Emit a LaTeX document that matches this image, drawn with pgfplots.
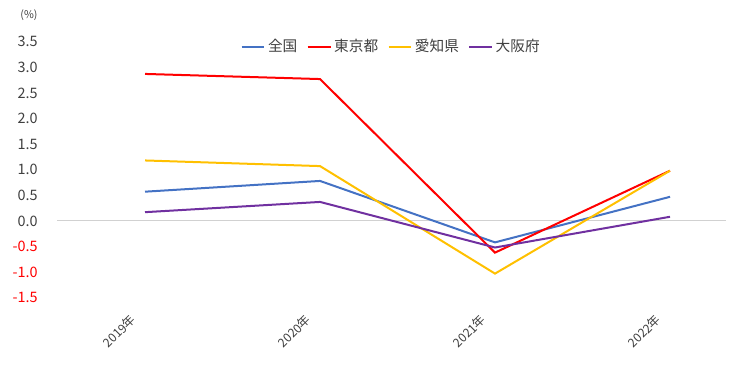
\documentclass[border=0pt]{standalone}
\usepackage{pgfplots}
\pgfplotsset{compat=1.18}
\usepackage{fontspec}
\setmainfont{Noto Sans CJK JP}
\definecolor{txt}{HTML}{404040}
\definecolor{cblue}{HTML}{4472C4}
\definecolor{cred}{HTML}{FF0000}
\definecolor{cyel}{HTML}{FFC000}
\definecolor{cpur}{HTML}{7030A0}
\begin{document}
\begin{tikzpicture}
\path[use as bounding box] (0,0) rectangle (547.5pt,276.75pt);
\begin{axis}[
  at={(42.75pt,53.5pt)}, anchor=south west,
  scale only axis, width=501.75pt, height=192pt,
  xmin=-0.503, xmax=3.32, ymin=-1.5, ymax=3.5,
  axis line style={draw=none},
  major tick length=0pt,
  xtick={0,1,2,3},
  xticklabels={2019年,2020年,2021年,2022年},
  xticklabel style={rotate=45, anchor=north east, font=\fontsize{9.2}{11}\selectfont, text=txt, yshift=3.7pt, xshift=-13.1pt},
  ytick={-1.5,-1,-0.5,0,0.5,1,1.5,2,2.5,3,3.5},
  yticklabels={\textcolor{cred}{-1.5},\textcolor{cred}{-1.0},\textcolor{cred}{-0.5},0.0,0.5,1.0,1.5,2.0,2.5,3.0,3.5},
  yticklabel style={font=\fontsize{10.8}{12}\selectfont, text=txt, xshift=-11pt},
  extra y ticks={0}, extra y tick labels={},
  extra y tick style={grid=major, major grid style={color=black!18, line width=0.75pt}},
  legend style={at={(0.5,1.03)}, anchor=north, draw=none, font=\fontsize{11}{12}\selectfont, text=txt, legend columns=4, /tikz/every even column/.append style={column sep=5pt}},
  legend image post style={line width=1.5pt},
  legend cell align=left,
  clip=false,
]
\addplot[cblue, line width=1.5pt] coordinates {(0,0.57) (1,0.78) (2,-0.42) (3,0.47)};
\addlegendentry{全国}
\addplot[cred, line width=1.5pt] coordinates {(0,2.87) (1,2.77) (2,-0.62) (3,0.98)};
\addlegendentry{東京都}
\addplot[cyel, line width=1.5pt] coordinates {(0,1.18) (1,1.07) (2,-1.03) (3,0.98)};
\addlegendentry{愛知県}
\addplot[cpur, line width=1.5pt] coordinates {(0,0.17) (1,0.37) (2,-0.52) (3,0.08)};
\addlegendentry{大阪府}
\node[font=\fontsize{8}{10}\selectfont, text=txt] at (rel axis cs:0,1) [xshift=-21pt, yshift=19.5pt] {(\%)};
\end{axis}
\end{tikzpicture}
\end{document}
